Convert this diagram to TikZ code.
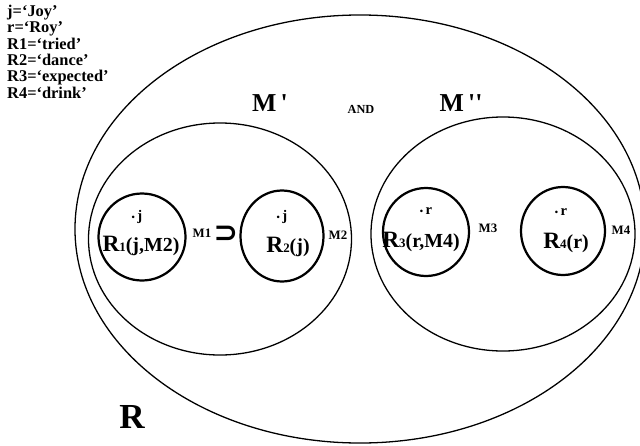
\documentclass[tikz,border=0pt]{standalone}
\usepackage{fontspec}
\setmainfont{Liberation Serif}
\newfontfamily\tickfont[Ligatures=TeXOff]{Liberation Serif}
\newfontfamily\symfont{DejaVu Sans}
\usetikzlibrary{shapes.geometric}

\newcommand{\pdot}{{\fontsize{8}{8}\selectfont •}\,}

\begin{document}
\begin{tikzpicture}[
        x=0.03cm, y=-0.03cm,
        set/.style = {ellipse, draw=black, line width=1.1pt, inner sep=0pt},
        rel/.style = {ellipse, draw=black, line width=1.9pt, inner sep=0pt},
        key/.style = {font=\fontsize{14}{13.9}\selectfont\bfseries, align=left, anchor=north west, inner sep=0pt},
        big/.style = {font=\fontsize{22}{24}\selectfont\bfseries, inner sep=0pt},
        small/.style = {font=\fontsize{11}{12}\selectfont\bfseries, inner sep=0pt},
        pt/.style = {font=\fontsize{12.5}{13}\selectfont\bfseries, inner sep=0pt},
        rlab/.style = {font=\fontsize{20}{21}\selectfont\bfseries, inner sep=0pt}
    ]
    \useasboundingbox (0,0) rectangle (640,446);

    % ================= LEYENDA =================
    \node[key] (legend) at (7,5) {j=‘Joy’\\ r=‘Roy’\\ R1=‘tried’\\ R2=‘dance’\\ R3=‘expected’\\ R4=‘drink’};

    % ================= CONJUNTOS =================
    \node[set, minimum width=17.1cm, minimum height=12.84cm] (R) at (360,229) {};
    \node[set, minimum width=7.89cm, minimum height=6.96cm] (Mp) at (220,239) {};
    \node[set, minimum width=7.92cm, minimum height=7.02cm] (Mpp) at (503,234) {};
    %
    \node[rel, minimum width=2.61cm, minimum height=2.61cm] (R1) at (142,237) {};
    \node[rel, minimum width=2.49cm, minimum height=2.73cm] (R2) at (282,236) {};
    \node[rel, minimum width=2.58cm, minimum height=2.64cm] (R3) at (426,232) {};
    \node[rel, minimum width=2.52cm, minimum height=2.64cm] (R4) at (563,231) {};

    % ================= ETIQUETAS =================
    \node[big] (lMp) at (270,103) {M\,{\tickfont'}};
    \node[small, font=\fontsize{10.5}{11}\selectfont\bfseries] (and) at (361,109) {AND};
    \node[big] (lMpp) at (461,103) {M\,{\tickfont''}};
    \node[big, font=\fontsize{30}{32}\selectfont\bfseries] (lR) at (132,417) {R};
    %
    \node[pt] (p1) at (137,217) {\pdot j};
    \node[pt] (p2) at (282,217) {\pdot j};
    \node[pt] (p3) at (426,211) {\pdot r};
    \node[pt] (p4) at (561,212) {\pdot r};
    %
    \node[rlab] (t1) at (141,246) {R{\fontsize{11}{12}\selectfont 1}{\fontsize{17}{18}\selectfont (j,M2)}};
    \node[rlab] (t2) at (288,247) {R{\fontsize{11}{12}\selectfont 2}{\fontsize{17}{18}\selectfont (j)}};
    \node[rlab] (t3) at (421,242) {R{\fontsize{11}{12}\selectfont 3}{\fontsize{17}{18}\selectfont (r,M4)}};
    \node[rlab] (t4) at (566,243) {R{\fontsize{11}{12}\selectfont 4}{\fontsize{17}{18}\selectfont (r)}};
    %
    \node[small] (m1) at (202,233) {M1};
    \node[font=\fontsize{25}{25}\selectfont\symfont\bfseries, inner sep=0pt] (sup) at (226,234) {⊃};
    \node[small] (m2) at (338,235) {M2};
    \node[small] (m3) at (488,228) {M3};
    \node[small] (m4) at (621,230) {M4};

    \end{tikzpicture}
\end{document}
